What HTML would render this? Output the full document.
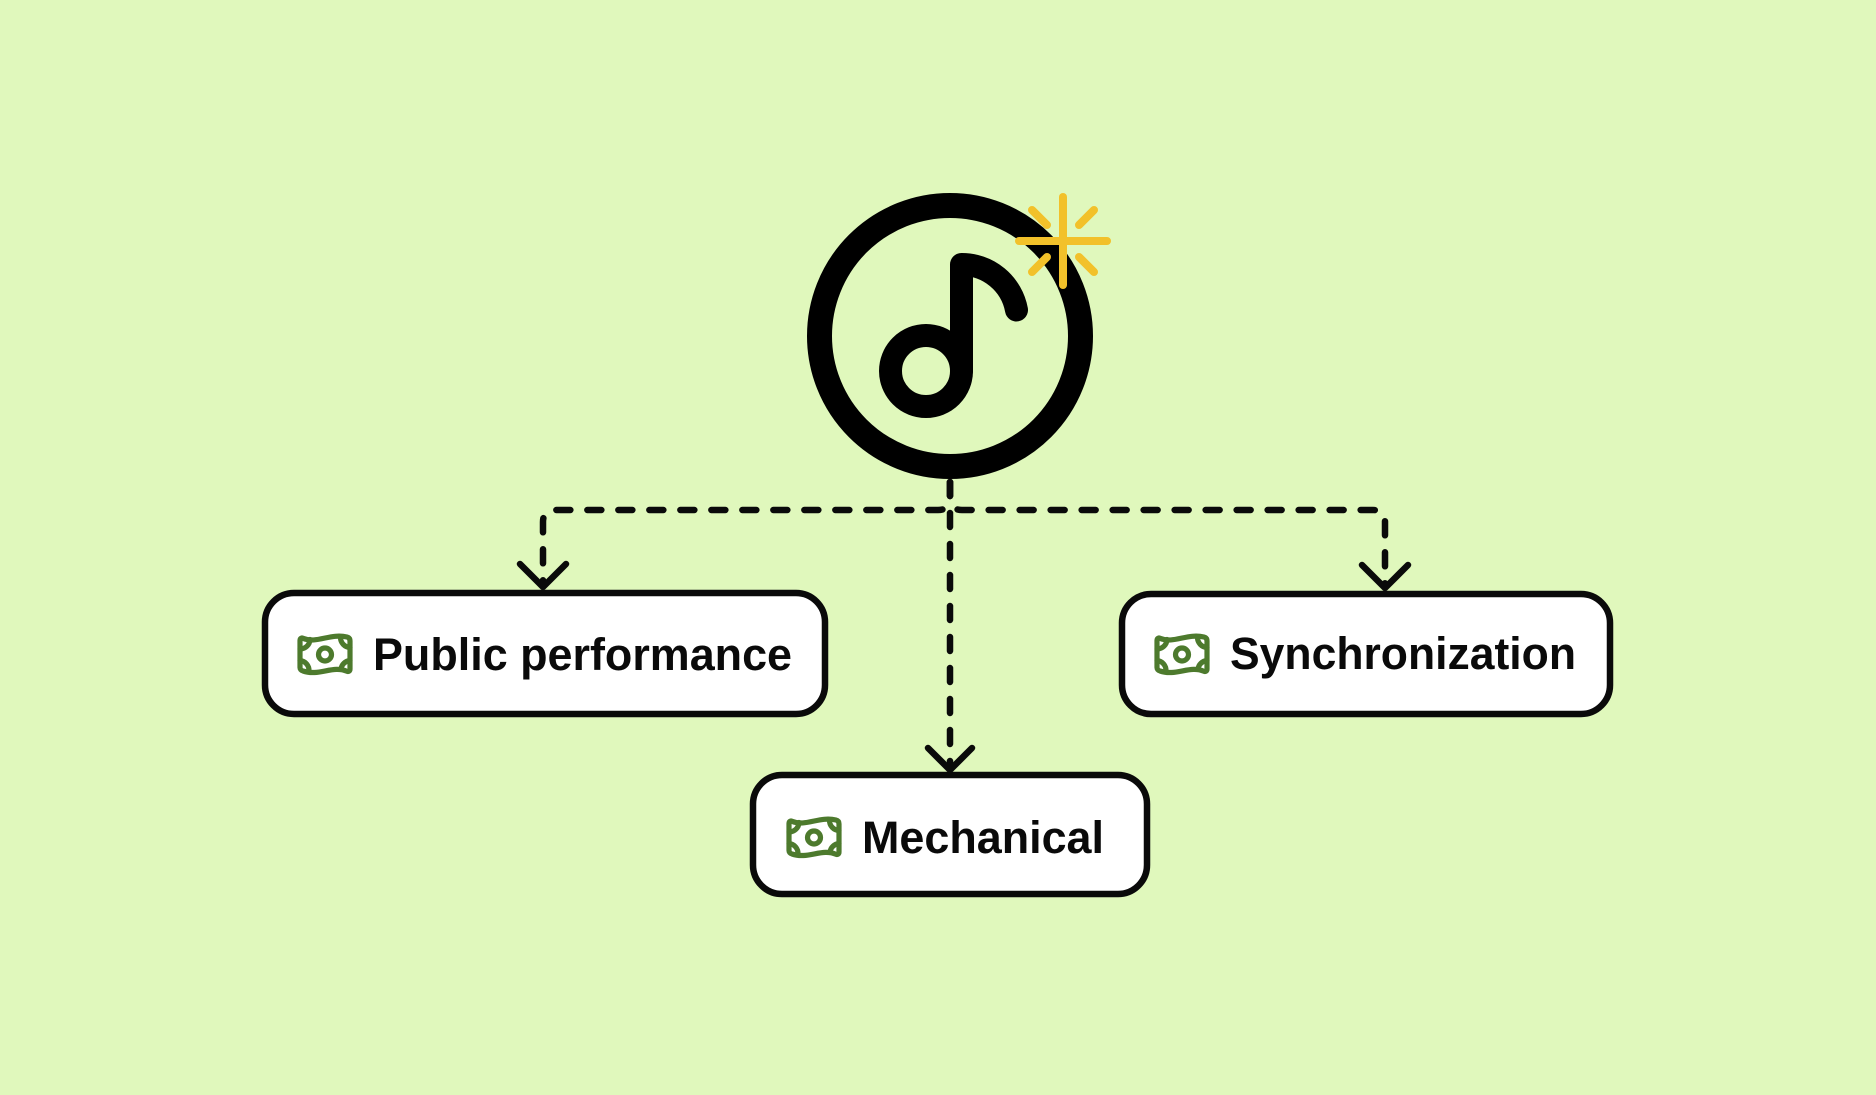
<!DOCTYPE html>
<html>
<head>
<meta charset="utf-8">
<style>
  html, body { margin: 0; padding: 0; background: #E0F8BC; }
  body { width: 1876px; height: 1095px; overflow: hidden; }
  svg { display: block; }
  .lbl { font-family: "Liberation Sans", Arial, sans-serif; font-weight: 700; font-size: 45px; fill: #0a0a0a; }
</style>
</head>
<body>
<svg width="1876" height="1095" viewBox="0 0 1876 1095" xmlns="http://www.w3.org/2000/svg">
  <defs>
    <g id="money" fill="none" stroke="#4D7A2D" stroke-width="5.2" stroke-linecap="round" stroke-linejoin="round">
      <path d="M3 6.5 C3 4.5 4.5 3.5 6 4.3 C20 10 33 -1 50 3 C52 3.5 53 5 53 7 L53 35 C53 37 51.5 38 50 37.3 C36 31 22 42.5 6 37 C4 36.5 3 35 3 33.5 Z"/>
      <circle cx="28" cy="20.5" r="6.5"/>
      <path d="M3 15 A10 10 0 0 0 13 5.5"/>
      <path d="M3 26.5 A10 10 0 0 1 12 37"/>
      <path d="M43.5 3.3 A10 10 0 0 0 53 13.5"/>
      <path d="M44 35 A10 10 0 0 1 53 26.5"/>
    </g>
  </defs>

  <rect x="0" y="0" width="1876" height="1095" fill="#E0F8BC"/>

  <!-- connectors -->
  <g fill="none" stroke="#0a0a0a" stroke-width="6.5" stroke-linecap="round" stroke-linejoin="round">
    <path d="M950 482 V498 Q950 510 938 510 H555 Q543 510 543 522 V584" stroke-dasharray="14 17"/>
    <path d="M950 482 V498 Q950 510 962 510 H1373 Q1385 510 1385 522 V585" stroke-dasharray="14 17"/>
    <path d="M950 482 V766" stroke-dasharray="14 17"/>
    <!-- arrowheads -->
    <path d="M520 564 L543 587 L566 564"/>
    <path d="M1362 565 L1385 588 L1408 565"/>
    <path d="M928 748 L950 770 L972 748"/>
  </g>

  <!-- music circle -->
  <circle cx="950" cy="336" r="130.5" fill="none" stroke="#000" stroke-width="25"/>
  <circle cx="926" cy="371" r="35.5" fill="none" stroke="#000" stroke-width="23"/>
  <path d="M961.5 371 V264.5 A55.5 55.5 0 0 1 1016.5 310" fill="none" stroke="#000" stroke-width="23" stroke-linecap="round" stroke-linejoin="round"/>

  <!-- sparkle -->
  <g stroke="#F2C12A" stroke-width="8" stroke-linecap="round" fill="none">
    <path d="M1063 197 V285"/>
    <path d="M1019 241 H1107"/>
    <path d="M1032 210 L1047 225"/>
    <path d="M1094 210 L1079 225"/>
    <path d="M1032 272 L1047 257"/>
    <path d="M1094 272 L1079 257"/>
  </g>

  <!-- boxes -->
  <g fill="#ffffff" stroke="#0a0a0a" stroke-width="6.5">
    <rect x="265" y="593" width="560" height="121" rx="29" ry="29"/>
    <rect x="1122" y="594" width="488" height="120" rx="29" ry="29"/>
    <rect x="753" y="775" width="394" height="119" rx="29" ry="29"/>
  </g>

  <!-- icons -->
  <use href="#money" x="297" y="634"/>
  <use href="#money" x="1154" y="634"/>
  <use href="#money" x="786" y="817"/>

  <!-- labels -->
  <text class="lbl" x="373" y="670" textLength="419" lengthAdjust="spacingAndGlyphs">Public performance</text>
  <text class="lbl" x="1230" y="669" textLength="346" lengthAdjust="spacingAndGlyphs">Synchronization</text>
  <text class="lbl" x="862" y="853" textLength="242" lengthAdjust="spacingAndGlyphs">Mechanical</text>
</svg>
</body>
</html>
